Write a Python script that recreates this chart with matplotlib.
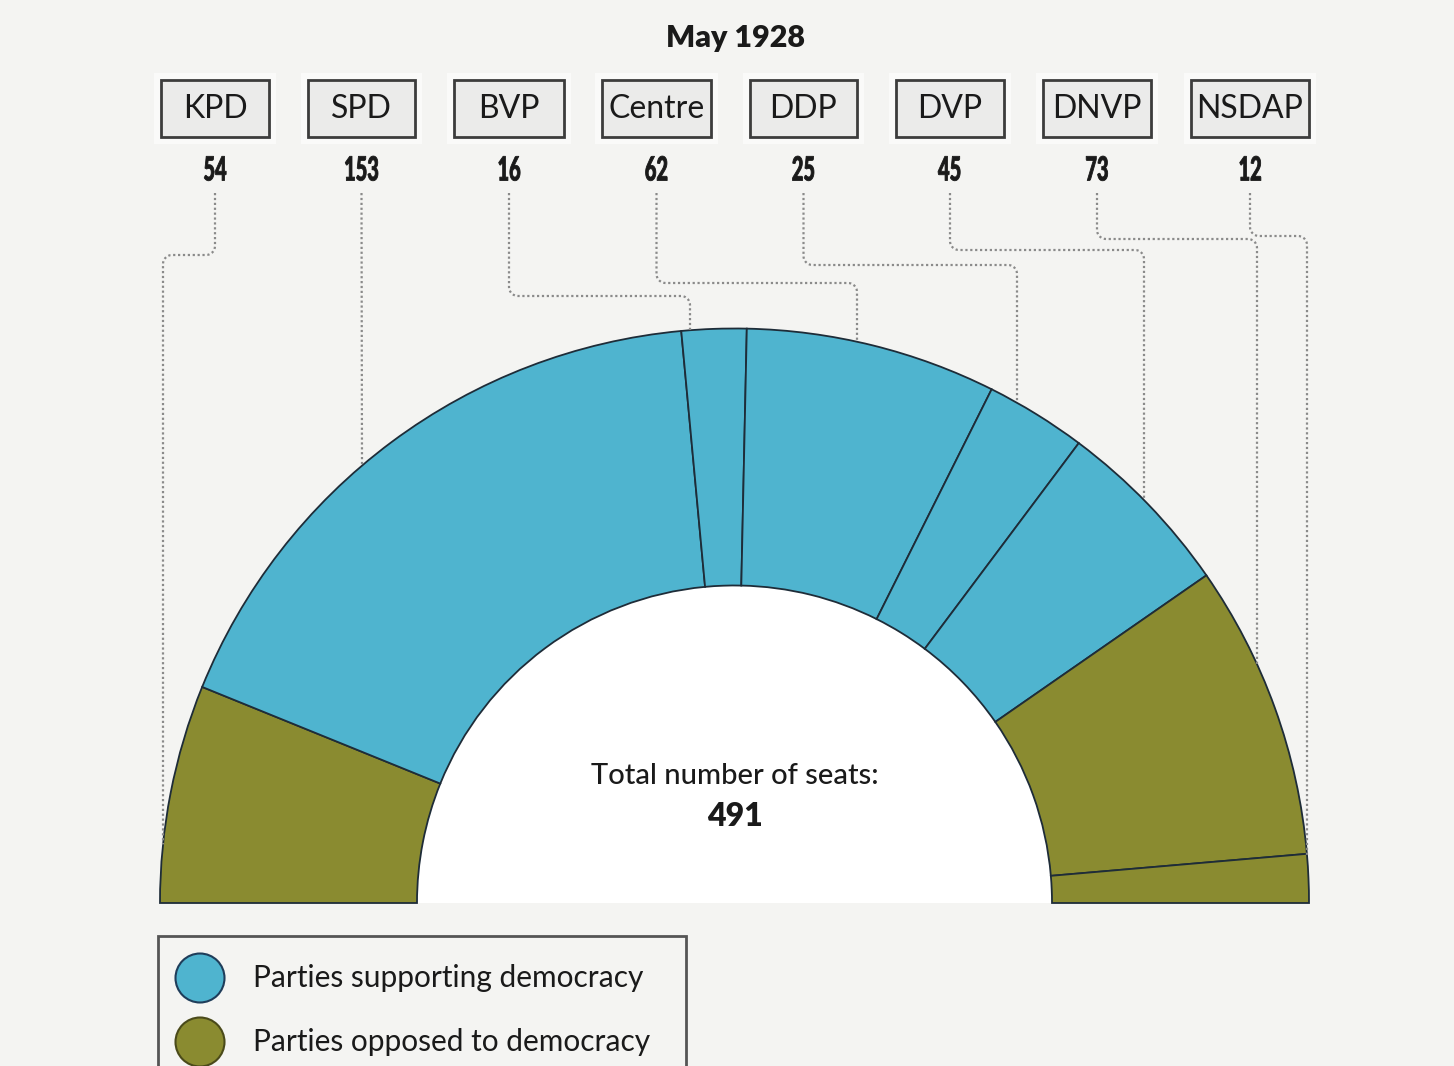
import numpy as np
import matplotlib
matplotlib.use("Agg")
import matplotlib.pyplot as plt
from matplotlib.patches import Wedge, Rectangle, Circle
from matplotlib.patheffects import AbstractPathEffect
from matplotlib.transforms import Affine2D
from matplotlib.path import Path

# ---------------- data ----------------
title = "May 1928"
parties = ["KPD", "SPD", "BVP", "Centre", "DDP", "DVP", "DNVP", "NSDAP"]
seats = [54, 153, 16, 62, 25, 45, 73, 12]
supports_democracy = [False, True, True, True, True, True, False, False]
total_seats = 491
legend_labels = ["Parties supporting democracy", "Parties opposed to democracy"]

# ---------------- layout / style ----------------
W, H = 1454, 1066
BG = "#f4f4f2"
BLUE = "#4fb4cf"
OLIVE = "#8a8b30"
EDGE = "#1e2c38"
FONT = ["Lato", "DejaVu Sans"]

box_x = [215, 361.5, 509, 656.5, 803.5, 950, 1097, 1250]
box_w = [108, 107, 110, 109, 107, 108, 108, 118]
box_top, box_bot = 80, 137
conn_x = [163, 362, 690, 857, 1017, 1144, 1257, 1307]
bend_y = [255, None, 296, 283, 265, 250, 239, 236]
conn_start = 193


class HSqueeze(AbstractPathEffect):
    """Narrow the glyphs horizontally about their centre (condensed look)."""

    def __init__(self, sx, stroke=0.0):
        super().__init__()
        self.sx = sx
        self.stroke = stroke

    def draw_path(self, renderer, gc, tpath, affine, rgbFace=None):
        verts = tpath.vertices
        if tpath.codes is not None:
            verts = verts[tpath.codes != Path.CLOSEPOLY]
        v = affine.transform(verts) if len(verts) else np.zeros((1, 2))
        xc = (v[:, 0].min() + v[:, 0].max()) / 2
        new = affine + Affine2D().translate(-xc, 0).scale(self.sx, 1) \
            .translate(xc, 0)
        gc0 = renderer.new_gc()
        gc0.copy_properties(gc)
        if self.stroke > 0:
            gc0.set_linewidth(self.stroke)
            gc0.set_foreground(rgbFace)
            gc0.set_joinstyle("round")
        else:
            gc0.set_linewidth(0)
        renderer.draw_path(gc0, tpath, new, rgbFace)
        gc0.restore()


fig = plt.figure(figsize=(W / 100, H / 100), dpi=100, facecolor=BG)
ax = fig.add_axes([0, 0, 1, 1])
ax.set_facecolor(BG)


def Y(y):
    return H - y


cx, cy = 734.5, Y(903)
R_out, R_in = 574.5, 317.5

colors = [BLUE if s else OLIVE for s in supports_democracy]
wedges, _ = ax.pie(seats + [sum(seats)], colors=colors + ["none"],
                   startangle=180, counterclock=False, radius=R_out,
                   center=(cx, cy),
                   wedgeprops=dict(width=R_out - R_in, edgecolor=EDGE,
                                   linewidth=1.3))
wedges[-1].set_visible(False)
ax.add_patch(Wedge((cx, cy), R_in, 0, 180, facecolor="white",
                   edgecolor="none", zorder=0.5))

ax.set_xlim(0, W)
ax.set_ylim(0, H)
ax.set_aspect("equal")
ax.set_axis_off()

# title
ax.text(735, Y(38), title, ha="center", va="center", fontsize=22,
        fontweight="heavy", family=FONT, color="#1a1a1a")

# party boxes + numbers
for name, n, x, w in zip(parties, seats, box_x, box_w):
    ax.add_patch(Rectangle((x - w / 2 - 7, Y(box_bot + 7)), w + 14,
                           box_bot - box_top + 14, facecolor="white",
                           edgecolor="none", alpha=0.6, zorder=2))
    ax.add_patch(Rectangle((x - w / 2, Y(box_bot)), w, box_bot - box_top,
                           facecolor="#ebebea", edgecolor="#3c3c3c",
                           linewidth=2, zorder=3))
    ax.text(x, Y((box_top + box_bot) / 2 + 1), name, ha="center",
            va="center", fontsize=23, family=FONT, color="#1a1a1a", zorder=4)
    ax.text(x, Y(171), str(n), ha="center", va="center", fontsize=24,
            fontweight="black", family=FONT, color="#1a1a1a", zorder=4,
            path_effects=[HSqueeze(0.6, stroke=0.6)])


# connectors
def elbow(x0, y0, yb, x1, y1, r=9):
    if yb is None or x0 == x1:
        return [x0, x1], [y0, y1]
    s = np.sign(x1 - x0)
    pts = [(x0, y0), (x0, yb - r)]
    t = np.linspace(0, np.pi / 2, 10)
    for a in t:
        pts.append((x0 + s * r - s * r * np.cos(a), yb - r + r * np.sin(a)))
    pts.append((x1 - s * r, yb))
    for a in t:
        pts.append((x1 - s * r + s * r * np.sin(a), yb + r - r * np.cos(a)))
    pts.append((x1, y1))
    xs, ys = zip(*pts)
    return list(xs), list(ys)


for x0, yb, x1 in zip(box_x, bend_y, conn_x):
    dx = x1 - cx
    y_end = 903 - np.sqrt(max(R_out ** 2 - dx ** 2, 0))
    xs, ys = elbow(x0, conn_start, yb, x1, y_end)
    ax.plot(xs, [Y(v) for v in ys], color="#8a8a8a", linewidth=1.6,
            linestyle=(0, (1, 1.2)), zorder=1.5, solid_capstyle="butt")

# centre text
ax.text(735, Y(776), "Total number of seats:", ha="center", va="center",
        fontsize=21, fontweight="medium", family=FONT, color="#1a1a1a",
        zorder=5)
ax.text(735, Y(817), str(total_seats), ha="center", va="center",
        fontsize=23, fontweight="heavy", family=FONT, color="#1a1a1a",
        zorder=5)

# legend
ax.add_patch(Rectangle((158, Y(1080)), 528, 1080 - 936, facecolor=BG,
                       edgecolor="#555555", linewidth=2, zorder=3,
                       clip_on=True))
for yy, col, ec, lab in zip([978, 1042], [BLUE, OLIVE],
                            ["#1f3d5a", "#4a4a1a"], legend_labels):
    ax.add_patch(Circle((200, Y(yy)), 24.5, facecolor=col, edgecolor=ec,
                        linewidth=1.5, zorder=4))
    ax.text(253, Y(yy), lab, ha="left", va="center", fontsize=21.5,
            family=FONT, color="#1a1a1a", zorder=4)

fig.savefig("out.png", dpi=100, facecolor=BG)
